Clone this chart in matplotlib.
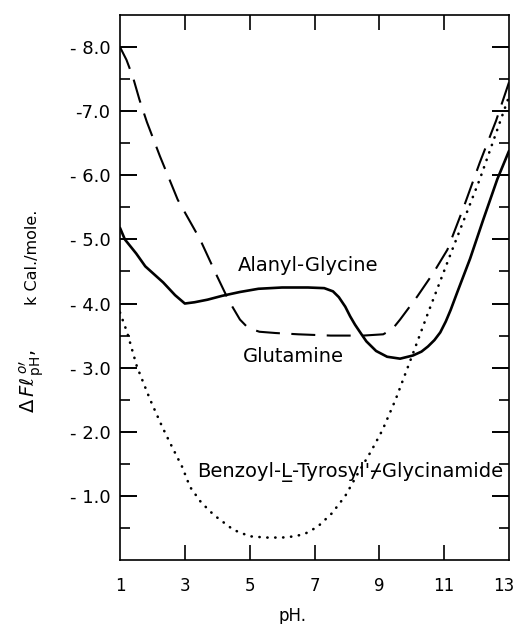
import matplotlib
matplotlib.use("Agg")
import matplotlib.pyplot as plt
from matplotlib.transforms import ScaledTranslation

# values (kcal/mole, plotted as magnitudes; axis shows them negative)
ph_alanyl = [1.0, 1.15, 1.5, 1.78, 2.33, 2.7, 3.0, 3.3, 3.7, 4.15, 4.7, 5.27, 6.0, 6.8, 7.3,
             7.57, 7.75, 7.95, 8.1, 8.25, 8.45, 8.6, 8.9, 9.24, 9.64, 10.04, 10.3, 10.5,
             10.7, 10.88, 11.05, 11.2, 11.4, 11.8, 12.2, 12.64, 13.0]
dg_alanyl = [5.18, 5.0, 4.78, 4.58, 4.33, 4.13, 4.0, 4.02, 4.06, 4.12, 4.18, 4.23, 4.25, 4.25, 4.24,
             4.19, 4.1, 3.95, 3.8, 3.67, 3.52, 3.41, 3.26, 3.17, 3.14, 3.19, 3.25, 3.33,
             3.43, 3.55, 3.72, 3.9, 4.17, 4.7, 5.3, 5.94, 6.38]

ph_glutamine = [1.0, 1.2, 1.4, 1.6, 1.83, 2.23, 2.78, 3.47, 4.0, 4.35, 4.7, 4.95, 5.3, 5.8,
                6.5, 7.5, 8.5, 9.12, 9.4, 9.64, 10.17, 10.67, 11.1, 11.6, 12.1, 12.6, 13.0]
dg_glutamine = [8.0, 7.8, 7.53, 7.18, 6.83, 6.3, 5.62, 5.0, 4.42, 4.05, 3.75, 3.62, 3.56, 3.54,
                3.52, 3.5, 3.5, 3.52, 3.6, 3.75, 4.11, 4.48, 4.84, 5.5, 6.2, 6.85, 7.45]

ph_benzoyl = [1.0, 1.22, 1.52, 1.93, 2.3, 2.54, 2.92, 3.16, 3.5, 3.9, 4.5, 5.0, 5.5, 6.0, 6.4,
              6.71, 7.1, 7.54, 7.95, 8.35, 8.75, 9.1, 9.5, 10.0, 10.5, 11.25, 12.1, 13.0]
dg_benzoyl = [3.86, 3.55, 3.02, 2.5, 2.08, 1.83, 1.45, 1.14, 0.9, 0.7, 0.47, 0.37, 0.35, 0.35, 0.37,
              0.41, 0.52, 0.73, 1.0, 1.36, 1.7, 2.03, 2.5, 3.17, 3.85, 4.84, 5.94, 7.23]

x_ticks = [1, 3, 5, 7, 9, 11, 13]
y_ticks = [1, 2, 3, 4, 5, 6, 7, 8]
y_tick_labels = ["- 1.0", "- 2.0", "- 3.0", "- 4.0", "- 5.0", "- 6.0", "-7.0", "- 8.0"]

plt.rcParams["font.family"] = ["DejaVu Sans"]

fig = plt.figure(figsize=(5.18, 6.24), dpi=100)
ax = fig.add_axes([120 / 518, 64 / 624, 389 / 518, 545 / 624])

ax.plot(ph_alanyl, dg_alanyl, color="black", lw=1.9, solid_capstyle="round",
        solid_joinstyle="round")
ax.plot(ph_glutamine, dg_glutamine, color="black", lw=1.5, dashes=(11.5, 5.5))
ax.plot(ph_benzoyl, dg_benzoyl, color="black", lw=1.9, linestyle=(0, (0.1, 2.9)),
        dash_capstyle="round")

ax.set_xlim(1, 13)
ax.set_ylim(0, 8.5)

for s in ax.spines.values():
    s.set_linewidth(1.2)

# left axis: labelled integer ticks, short half-unit ticks
ax.set_yticks(y_ticks)
ax.set_yticklabels(y_tick_labels, fontsize=13)
ax.set_yticks([0.5 + i for i in range(8)], minor=True)
ax.tick_params(axis="y", which="major", direction="in", length=12, width=1.4, pad=7,
               right=True)
ax.tick_params(axis="y", which="minor", direction="in", length=7, width=1.2, right=True)

ax.set_xticks(x_ticks)
ax.set_xticklabels([str(v) for v in x_ticks], fontsize=12,
                   family=["Liberation Sans Narrow", "DejaVu Sans"])
ax.tick_params(axis="x", which="major", direction="in", length=11, width=1.2, pad=12,
               top=True)
# no tick marks in the corners
xt = ax.xaxis.get_major_ticks()
for t in (xt[0], xt[-1]):
    t.tick1line.set_visible(False)
    t.tick2line.set_visible(False)
# keep "13" inside the picture
lab = xt[-1].label1
lab.set_transform(lab.get_transform() + ScaledTranslation(-4 / 72, 0, fig.dpi_scale_trans))

ax.text(4.64, 4.6, "Alanyl-Glycine", fontsize=14, va="center", ha="left")
ax.text(4.8, 3.17, "Glutamine", fontsize=14, va="center", ha="left")
ax.text(3.38, 1.37, "Benzoyl-L\u0332-Tyrosyl'\u233fGlycinamide", fontsize=14,
        va="center", ha="left", family=["DejaVu Sans", "DejaVu Sans Mono"])

fig.text(292 / 518, 1 - 616 / 624, "pH.", fontsize=12, ha="center", va="center")
fig.text(32 / 518, 1 - 257 / 624, "k Cal./mole.", fontsize=11.5, rotation=90,
         ha="center", va="center")
fig.text(32 / 518, 1 - 381 / 624, r"$\Delta\,F\ell^{\,o\prime}_{\,\mathrm{pH}},$",
         fontsize=14, rotation=90, ha="center", va="center")

fig.savefig("out.png", dpi=100)
